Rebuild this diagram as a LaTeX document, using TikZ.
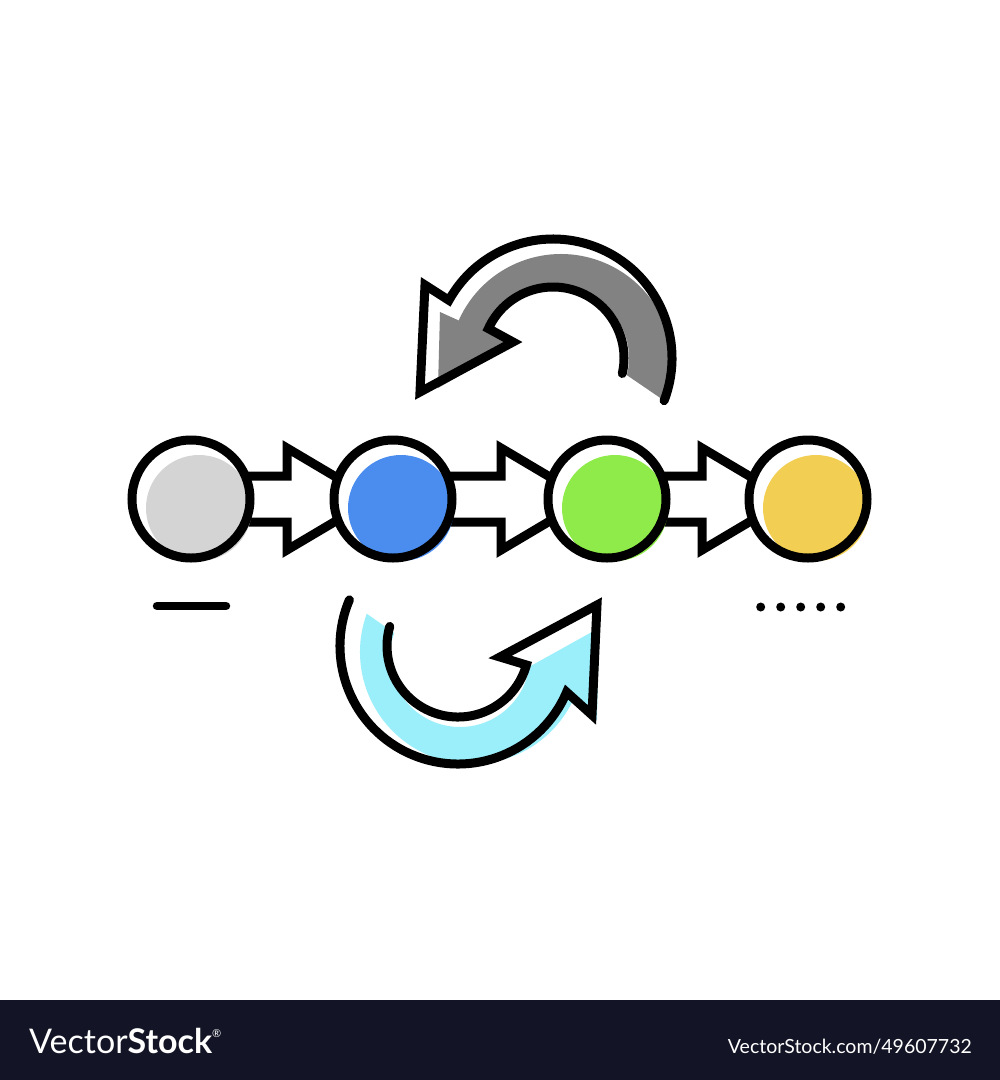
\documentclass[tikz,border=0pt]{standalone}
\usepackage{fontspec}
\setmainfont{Lato}
\usetikzlibrary{calc}
\definecolor{cgray}{HTML}{D4D4D4}
\definecolor{cblue}{HTML}{4A8DEE}
\definecolor{cgreen}{HTML}{8EEB4A}
\definecolor{cyellow}{HTML}{F2CF52}
\definecolor{agray}{HTML}{828282}
\definecolor{acyan}{HTML}{9BEFFA}
\definecolor{banner}{HTML}{131526}
\begin{document}
\begin{tikzpicture}[x=1pt,y=-1pt,
  outline/.style={draw=black, line width=9pt, line cap=round, line join=miter},
  blockarrow/.style={draw=black, fill=white, line width=9pt, line join=miter},
  ring/.style={circle, draw=black, line width=9pt, minimum size=118pt, inner sep=0pt},
  dotmark/.style={fill=black}]
\useasboundingbox (0,0) rectangle (1000,1080);
\fill[white] (0,0) rectangle (1000,1000);
\fill[banner] (0,1000) rectangle (1000,1080);

% circle centres
\coordinate (c1) at (191,499);
\coordinate (c2) at (393,499);
\coordinate (c3) at (607,499);
\coordinate (c4) at (808,499);

% block arrows between circles
\foreach \a/\b in {c1/c2, c2/c3, c3/c4}{
  \draw[blockarrow] ($(\a)+(0,-23)$) -- ($(\b)+(-106,-23)$) -- ($(\b)+(-106,-51)$)
     -- ($(\b)+(-20,0)$) -- ($(\b)+(-106,51)$) -- ($(\b)+(-106,23)$) -- ($(\a)+(0,23)$) -- cycle;
}

% circles
\foreach \c/\col/\n in {c1/cgray/n1, c2/cblue/n2, c3/cgreen/n3, c4/cyellow/n4}{
  \fill[white] (\c) circle[radius=59];
  \fill[\col] ($(\c)+(8,9)$) circle[radius=53];
  \node[ring] (\n) at (\c) {};
}

% dash and dots
\coordinate (d1) at (157,606);
\coordinate (d2) at (226,606);
\draw[line width=8.5pt, line cap=round] (d1) -- (d2);
\foreach \k in {0,...,4}{
  \fill[dotmark] ($(760.7,607)+(20*\k,0)$) circle[radius=4.5];
}

% top (grey) curved arrow
\coordinate (o1) at (553,358);
\coordinate (f1o) at (561,366);
\coordinate (f1i) at (558,358);
\coordinate (ta) at (425,285);
\coordinate (tt) at (420,392);
\coordinate (tc) at (513,342);
\fill[agray] ([shift={(19:112)}]f1o) arc[start angle=19, end angle=-156, radius=112]
   -- (440,312) -- (438,388) -- (512,346)
   -- ([shift={(-160:71)}]f1i) arc[start angle=-160, end angle=14, radius=71] -- cycle;
\draw[outline] ([shift={(21:119)}]o1) arc[start angle=21, end angle=-151, radius=119]
   -- (ta) -- (tt) -- (tc)
   -- ([shift={(-155.5:71)}]o1) arc[start angle=-155.5, end angle=12.6, radius=71];

% bottom (cyan) curved arrow
\coordinate (o2) at (458,646);
\coordinate (f2o) at (472,652);
\coordinate (f2i) at (460,657);
\coordinate (bb2) at (592,715);
\coordinate (bt) at (597,605);
\coordinate (bb1) at (500,657);
\fill[acyan] ([shift={(-160:112)}]f2o) arc[start angle=-160, end angle=-334, radius=112]
   -- (597,720) -- (599,628)
   -- ([shift={(8:70)}]f2i) arc[start angle=8, end angle=200, radius=70] -- cycle;
\draw[outline] ([shift={(-157:118)}]o2) arc[start angle=-157, end angle=-337, radius=118]
   -- (bb2) -- (bt) -- (bb1)
   -- ([shift={(15.5:71)}]o2) arc[start angle=15.5, end angle=196, radius=71];

% banner text
\node[anchor=base west, inner sep=0pt, text=white, font=\fontsize{34}{34}\selectfont] (logo) at (29,1053)
  {Vector\textbf{Stock}\raisebox{0.9ex}{\fontsize{11}{11}\selectfont\textregistered}};
\node[anchor=base east, inner sep=0pt, text=white, font=\fontsize{19.5}{19.5}\selectfont] (ref) at (972,1053)
  {VectorStock.com/49607732};
\end{tikzpicture}
\end{document}
